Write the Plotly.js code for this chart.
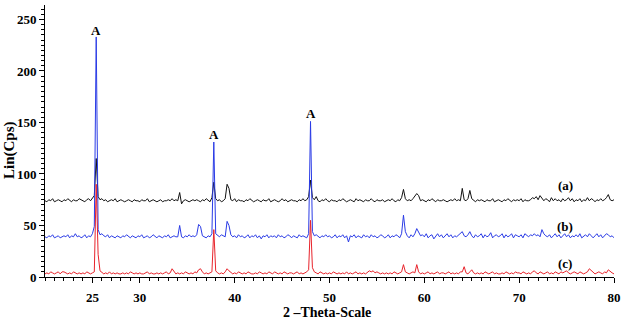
<!DOCTYPE html>
<html>
<head>
<meta charset="utf-8">
<script src="https://cdn.plot.ly/plotly-3.0.1.min.js"></script>
<style>html,body{margin:0;padding:0;background:#fff;}#chart{width:621px;height:319px;}</style>
</head>
<body>
<div id="chart"></div>
<script>
// Scan: 2-theta from 20 to 80 degrees, step 0.2
const scanStart = 20;
const scanStep = 0.2;

// (a) black
const seriesA = [
74,73,75,74,76,73,74,75,74,73,
75,74,76,74,73,75,74,74,76,75,
74,73,75,76,74,77,79,115,78,75,
76,74,75,73,74,75,74,76,73,74,
75,74,73,74,75,74,73,75,74,74,
73,75,74,74,76,73,74,75,74,73,
74,75,73,74,74,75,74,76,74,75,
74,82,71,74,75,74,73,74,75,74,
75,74,73,75,74,76,74,73,77,92,
76,74,75,73,74,76,90,86,75,74,
76,73,75,74,74,73,75,74,76,74,
73,74,75,74,73,75,74,74,76,73,
74,75,74,73,74,76,74,75,73,74,
75,74,74,73,75,74,76,74,75,78,
94,77,75,78,74,73,75,74,76,74,
73,75,74,74,73,75,74,76,74,73,
74,75,74,73,76,74,75,74,73,75,
74,74,76,74,73,75,74,74,75,73,
74,75,74,76,74,73,75,74,77,85,
76,74,75,74,76,78,81,79,74,75,
74,73,75,74,76,74,73,75,74,74,
75,74,73,74,75,74,76,74,75,74,
86,75,74,76,84,76,74,73,75,74,
75,74,73,75,74,74,76,73,74,75,
74,73,75,74,76,74,73,75,74,75,
74,76,73,75,74,74,75,77,76,78,
75,79,77,74,76,75,73,77,74,76,
74,75,73,76,74,75,77,74,76,73,
75,74,76,73,75,74,77,74,76,75,
73,75,74,76,74,75,77,80,75,74,
75];

// (b) blue
const seriesB = [
39,38,40,39,41,38,39,40,38,39,
40,39,41,38,40,39,42,39,40,38,
39,41,38,40,39,42,49,233,46,41,
42,40,39,41,38,40,39,38,40,39,
38,40,39,41,39,38,40,39,38,40,
39,41,38,39,40,38,39,41,39,38,
40,39,38,40,39,41,38,39,40,39,
39,50,39,38,40,39,41,39,40,39,
41,51,49,40,39,38,40,39,42,131,
42,40,39,41,40,39,54,50,41,39,
40,38,41,39,40,38,39,41,38,40,
39,41,38,40,37,40,39,41,38,40,
39,40,38,41,39,40,38,39,41,40,
38,40,39,38,41,39,40,39,38,42,
151,44,40,41,39,38,40,39,41,39,
40,38,39,41,38,40,39,41,38,40,
34,40,39,41,38,40,39,38,41,39,
40,38,41,39,40,38,39,41,40,38,
39,41,38,40,39,41,40,38,42,60,
44,40,38,41,39,42,47,44,40,41,
39,42,38,40,41,37,40,42,39,41,
38,40,42,39,41,38,40,39,41,43,
44,40,39,41,44,40,38,41,39,40,
42,38,41,39,40,43,38,40,41,39,
40,42,38,41,39,40,42,38,41,40,
39,41,38,42,40,39,41,40,42,40,
41,39,46,42,40,39,41,38,40,42,
39,41,38,40,42,39,41,38,40,39,
41,39,42,38,40,41,39,42,40,38,
40,42,39,41,38,40,42,41,39,40,
38];

// (c) red
const seriesC = [
3,4,3,5,4,3,4,5,3,5,
5,4,3,4,3,5,4,3,4,3,
4,3,5,4,3,4,5,90,22,6,
4,3,4,3,5,3,4,3,4,3,
3,4,3,4,3,5,4,3,4,3,
4,3,3,4,5,3,4,3,3,4,
3,4,3,4,5,3,4,8,5,3,
4,3,4,3,5,4,3,4,3,5,
4,7,8,5,3,4,3,4,5,46,
6,4,3,4,3,5,8,6,4,3,
4,3,5,4,3,4,3,5,4,3,
3,4,3,5,4,3,4,3,5,4,
3,5,4,3,4,3,5,4,3,4,
4,3,4,5,3,4,3,4,5,7,
55,9,5,4,3,5,4,3,4,3,
4,3,5,4,3,4,3,4,3,5,
3,4,3,4,5,3,4,3,4,3,
5,6,5,6,4,5,4,3,4,3,
4,3,4,3,5,4,3,4,5,12,
5,4,3,4,5,4,12,5,3,4,
3,4,5,3,4,3,4,5,3,4,
4,3,4,5,3,4,3,4,3,5,
5,10,4,3,5,7,4,3,4,3,
4,3,5,4,3,4,5,3,4,3,
3,4,3,5,4,3,4,3,5,4,
4,3,5,4,3,4,3,5,6,4,
3,5,4,3,4,5,3,4,3,5,
4,3,5,4,5,6,4,3,4,5,
4,3,5,4,3,4,5,8,6,4,
3,4,5,4,3,5,4,7,5,4,
3];

const seriesNames = ['(a)', '(b)', '(c)'];
const xTickVals = [25, 30, 40, 50, 60, 70, 80];
const yTickVals = [0, 50, 100, 150, 200, 250];
const peakLabelX = [25.4, 37.8, 48.0];
const peakLabelY = [239, 138, 159];
const peakLabelText = ['A', 'A', 'A'];
const seriesLabelY = [89, 49, 13.3];
const seriesLabelX = 74.85;

const twoTheta = seriesA.map((_, i) => +(scanStart + i * scanStep).toFixed(2));

const colors = ['#111111', '#2a3be6', '#e8232b'];
const serif = 'Liberation Serif, Times New Roman, serif';

const traces = [seriesA, seriesB, seriesC].map((ys, k) => ({
  type: 'scatter', mode: 'lines', x: twoTheta, y: ys, name: seriesNames[k],
  line: {color: colors[k], width: 1}, hoverinfo: 'skip'
}));

const annotations = [];
peakLabelX.forEach((x, i) => annotations.push({
  x: x, y: peakLabelY[i], xref: 'x', yref: 'y', text: peakLabelText[i], showarrow: false,
  font: {family: serif, size: 13, weight: 'bold', color: '#000'}, yanchor: 'middle'
}));
seriesNames.forEach((t, i) => annotations.push({
  x: seriesLabelX, y: seriesLabelY[i], xref: 'x', yref: 'y', text: t, showarrow: false,
  font: {family: serif, size: 13, weight: 'bold', color: '#000'}
}));
annotations.push({
  x: -0.0615, y: 0.467, xref: 'paper', yref: 'paper', text: 'Lin(Cps)', textangle: -90,
  showarrow: false, font: {family: serif, size: 15, weight: 'bold', color: '#000'},
  xanchor: 'center', yanchor: 'middle'
});
annotations.push({
  x: 0.4956, y: -0.13, xref: 'paper', yref: 'paper', text: '2 \u2013Theta-Scale',
  showarrow: false, font: {family: serif, size: 14, weight: 'bold', color: '#000'},
  xanchor: 'center', yanchor: 'middle'
});

const layout = {
  width: 621, height: 319,
  margin: {l: 45, r: 7, t: 5, b: 42},
  paper_bgcolor: '#fff', plot_bgcolor: '#fff',
  showlegend: false,
  xaxis: {
    range: [20, 80], tickmode: 'array', tickvals: xTickVals,
    ticks: 'outside', ticklen: 5, tickcolor: '#000', showline: true, linecolor: '#000', linewidth: 1,
    showgrid: false, zeroline: false, ticklabelstandoff: 3,
    tickfont: {family: serif, size: 13, weight: 'bold', color: '#000'},
    minor: {tickmode: 'linear', tick0: 20, dtick: 1, ticks: 'outside', ticklen: 3, tickcolor: '#000', showgrid: false}
  },
  yaxis: {
    range: [0, 264], tickmode: 'array', tickvals: yTickVals,
    ticks: 'outside', ticklen: 5, tickcolor: '#000', showline: true, linecolor: '#000', linewidth: 1,
    showgrid: false, zeroline: false,
    tickfont: {family: serif, size: 13, weight: 'bold', color: '#000'},
    minor: {tickmode: 'linear', tick0: 0, dtick: 5, ticks: 'outside', ticklen: 3, tickcolor: '#000', showgrid: false}
  },
  annotations: annotations
};

Plotly.newPlot('chart', traces, layout, {staticPlot: true, displayModeBar: false});
</script>
</body>
</html>
